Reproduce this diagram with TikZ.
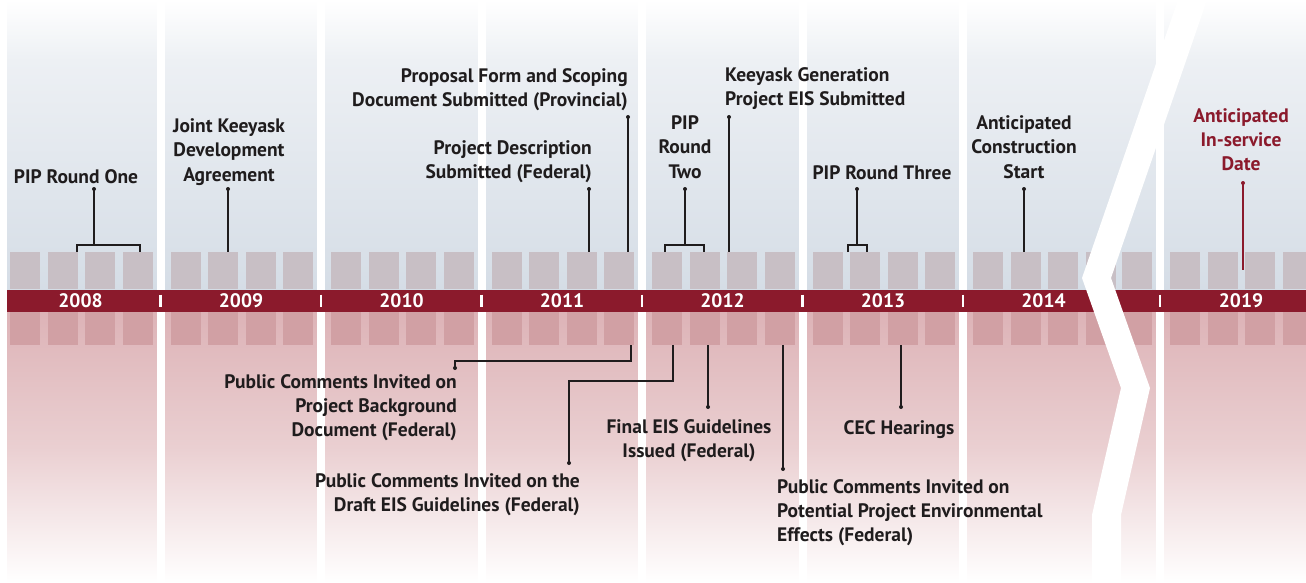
\documentclass[tikz,border=0pt]{standalone}
\usepackage{fontspec}
\setmainfont{PT Sans}
\definecolor{barred}{HTML}{8B1A2C}
\definecolor{ink}{HTML}{1F1C1D}
\definecolor{topbg}{HTML}{D5DDE6}
\definecolor{topbgl}{HTML}{EDF0F4}
\definecolor{blockgrey}{HTML}{C8BFC5}
\definecolor{blockpink}{HTML}{D1A0A4}
\definecolor{botbg}{HTML}{DDB3B7}
\definecolor{botbgm}{HTML}{EACFD1}
\newcommand{\lbl}[2]{\begin{tabular}[t]{@{}#1@{}}#2\end{tabular}}
\begin{document}
\begin{tikzpicture}[x=1pt,y=-1pt,
  lab/.style={inner sep=0pt, text=ink, font=\fontsize{19.5}{24}\selectfont\bfseries},
  yr/.style={inner sep=0pt, text=white, font=\fontsize{19.5}{24}\selectfont\bfseries},
  conn/.style={draw=ink, line width=1.5pt},
  rconn/.style={draw=barred, line width=1.5pt},
  dot/.style={circle, fill=ink, inner sep=0pt, minimum size=4pt},
  rdot/.style={circle, fill=barred, inner sep=0pt, minimum size=4pt},
]
\clip (0,0) rectangle (1306,583);
\useasboundingbox (0,0) rectangle (1306,583);
% background
\fill[white] (0,0) rectangle (1306,583);
\shade[top color=white,bottom color=topbgl] (0,0) rectangle (1306,60);
\shade[top color=topbgl,bottom color=topbg] (0,60) rectangle (1306,290);
\shade[top color=botbg,bottom color=white,middle color=botbgm] (0,311) rectangle (1306,583);
% column stripes
\fill[white] (0,0) rectangle (7,583);
\foreach \s in {160.5,321,481.5,642,802.5,963,1160}
  \fill[white] (\s-4,0) rectangle (\s+4,583);
% quarter blocks
\foreach \s in {0,160.5,321,481.5,642,802.5,963,1160}
  \foreach \o in {10,47.5,85,122.5} {
    \fill[blockgrey] (\s+\o,252) rectangle ++(30,37);
    \fill[blockpink] (\s+\o,311) rectangle ++(30,34);
  }
\fill[blockgrey] (1122,252) rectangle ++(30,37);
\fill[blockpink] (1122,311) rectangle ++(30,34);
% bar
\fill[barred] (7,289.5) rectangle (1306,311.5);
\foreach \s in {160.5,321,481.5,642,802.5,963,1160}
  \draw[white, line width=2.8pt] (\s,294.5) -- (\s,306.5);
\node[yr] (y2008) at (80.5,300.5) {2008};
\node[yr] (y2009) at (241,300.5) {2009};
\node[yr] (y2010) at (401.5,300.5) {2010};
\node[yr] (y2011) at (562,300.5) {2011};
\node[yr] (y2012) at (722.5,300.5) {2012};
\node[yr] (y2013) at (883,300.5) {2013};
\node[yr] (y2014) at (1043.5,300.5) {2014};
\node[yr] (y2019) at (1241,300.5) {2019};
% break
\fill[white] (1178,0) -- (1082,278) -- (1121,388) -- (1092,515) -- (1092,583)
  -- (1121,583) -- (1121,515) -- (1150,388) -- (1111,278) -- (1207,0) -- cycle;
% top labels
\node[lab, anchor=base] (pip1) at (76,183) {PIP Round One};
\node[lab, anchor=base] (jkda) at (229,133) {\lbl{c}{Joint Keeyask\\Development\\Agreement}};
\node[lab, anchor=base east] (pfsd) at (628,83) {\lbl{r}{Proposal Form and Scoping\\Document Submitted (Provincial)}};
\node[lab, anchor=base east] (pds) at (592,154) {\lbl{r}{Project Description\\Submitted (Federal)}};
\node[lab, anchor=base] (pip2) at (685,130) {\lbl{c}{PIP\\Round\\Two}};
\node[lab, anchor=base west] (kgp) at (725,82) {\lbl{l}{Keeyask Generation\\Project EIS Submitted}};
\node[lab, anchor=base] (pip3) at (882,179) {PIP Round Three};
\node[lab, anchor=base] (acs) at (1024,130) {\lbl{c}{Anticipated\\Construction\\Start}};
\node[lab, anchor=base, text=barred] (isd) at (1241,123) {\lbl{c}{Anticipated\\In-service\\Date}};
% bottom labels
\node[lab, anchor=base east] (pcb) at (457,388) {\lbl{r}{Public Comments Invited on\\Project Background\\Document (Federal)}};
\node[lab, anchor=base east] (pcd) at (580,487) {\lbl{r}{Public Comments Invited on the\\Draft EIS Guidelines (Federal)}};
\node[lab, anchor=base] (feg) at (689,433) {\lbl{c}{Final EIS Guidelines\\Issued (Federal)}};
\node[lab, anchor=base west] (pcp) at (777,493) {\lbl{l}{Public Comments Invited on\\Potential Project Environmental\\Effects (Federal)}};
\node[lab, anchor=base] (cec) at (899,434) {CEC Hearings};
% connector points
\coordinate (a1) at (94,189); \coordinate (b1) at (94,245);
\coordinate (b1l) at (77,252); \coordinate (b1r) at (140,252);
\coordinate (a2) at (228,189); \coordinate (b2) at (228,252);
\coordinate (a3) at (628,117); \coordinate (b3) at (628,252);
\coordinate (a4) at (589,189); \coordinate (b4) at (589,252);
\coordinate (a5) at (685,189); \coordinate (b5) at (685,245);
\coordinate (b5l) at (665,252); \coordinate (b5r) at (704,252);
\coordinate (a6) at (729,117); \coordinate (b6) at (729,252);
\coordinate (a7) at (857,189); \coordinate (b7) at (857,245);
\coordinate (b7l) at (848,252); \coordinate (b7r) at (867,252);
\coordinate (a8) at (1024,189); \coordinate (b8) at (1024,252);
\coordinate (a9) at (1243,183); \coordinate (b9) at (1243,270);
\coordinate (a10) at (455,368); \coordinate (b10) at (631,345);
\coordinate (a11) at (569,463); \coordinate (b11) at (673,345);
\coordinate (a12) at (708,407); \coordinate (b12) at (708,345);
\coordinate (a13) at (783,469); \coordinate (b13) at (783,345);
\coordinate (a14) at (901,407); \coordinate (b14) at (901,345);
% connectors
\draw[conn] (a1) -- (b1);
\draw[conn] (b1l) -- (b1l |- b1) -- (b1r |- b1) -- (b1r);
\draw[conn] (a2) -- (b2);
\draw[conn] (a3) -- (b3);
\draw[conn] (a4) -- (b4);
\draw[conn] (a5) -- (b5);
\draw[conn] (b5l) -- (b5l |- b5) -- (b5r |- b5) -- (b5r);
\draw[conn] (a6) -- (b6);
\draw[conn] (a7) -- (b7);
\draw[conn] (b7l) -- (b7l |- b7) -- (b7r |- b7) -- (b7r);
\draw[conn] (a8) -- (b8);
\draw[rconn] (a9) -- (b9);
\draw[conn] (b10) -- ++(0,16) -| (a10);
\draw[conn] (b11) -- ++(0,36) -| (a11);
\draw[conn] (a12) -- (b12);
\draw[conn] (a13) -- (b13);
\draw[conn] (a14) -- (b14);
\foreach \p in {a1,a2,a3,a4,a5,a6,a7,a8,a10,a11,a12,a13,a14}
  \node[dot] at (\p) {};
\node[rdot] at (a9) {};
\end{tikzpicture}
\end{document}
